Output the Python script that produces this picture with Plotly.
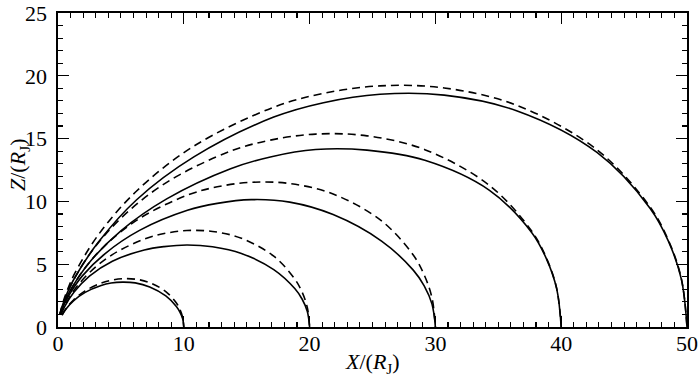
import plotly.graph_objects as go

# Dashed curves (dipole field lines)
dip10_x = [0.32, 0.64, 1.25, 2.16, 3.43, 4.22, 5.12, 6.14, 7.29, 8.57, 9.41, 9.70, 9.91, 10.0]
dip10_z = [0.95, 1.47, 2.17, 2.88, 3.50, 3.72, 3.84, 3.81, 3.53, 2.82, 1.91, 1.38, 0.77, 0.0]

dip20_x = [0.22, 0.31, 0.54, 1.28, 2.50, 4.32, 6.86, 8.44, 10.24, 12.28, 14.58, 17.15, 18.82, 19.41, 19.82, 20.0]
dip20_z = [0.97, 1.21, 1.72, 2.93, 4.33, 5.76, 7.00, 7.44, 7.68, 7.61, 7.06, 5.64, 3.82, 2.76, 1.54, 0.0]

dip30_x = [0.18, 0.47, 0.81, 1.92, 3.75, 6.48, 10.29, 12.66, 15.36, 18.42, 21.87, 25.72, 28.24, 29.11, 29.73, 30.0]
dip30_z = [0.98, 1.82, 2.58, 4.40, 6.50, 8.64, 10.50, 11.16, 11.52, 11.42, 10.59, 8.45, 5.73, 4.15, 2.31, 0.0]

dip40_x = [0.16, 0.32, 0.62, 1.08, 2.56, 5.00, 8.64, 13.72, 16.88, 20.48, 24.56, 29.16, 34.30, 37.65, 38.81, 39.64, 40.0]
dip40_z = [0.99, 1.57, 2.42, 3.44, 5.86, 8.66, 11.52, 14.00, 14.88, 15.36, 15.22, 14.12, 11.27, 7.64, 5.53, 3.08, 0.0]

dip50_x = [0.14, 0.40, 0.78, 1.35, 3.20, 6.25, 10.80, 17.15, 21.10, 25.60, 30.70, 36.45, 42.87, 47.06, 48.52, 49.55, 50.0]
dip50_z = [0.99, 1.96, 3.03, 4.30, 7.33, 10.83, 14.40, 17.50, 18.60, 19.20, 19.03, 17.66, 14.09, 9.56, 6.91, 3.85, 0.0]

# Solid curves (modified field lines)
sol10_x = [0.32, 0.64, 1.25, 2.16, 3.43, 4.22, 5.12, 6.14, 7.29, 8.57, 9.41, 9.70, 9.91, 10.0]
sol10_z = [0.95, 1.44, 2.10, 2.76, 3.31, 3.50, 3.57, 3.51, 3.19, 2.48, 1.64, 1.17, 0.65, 0.0]

sol20_x = [0.22, 0.31, 0.54, 1.28, 2.50, 4.32, 6.86, 8.44, 10.24, 12.28, 14.58, 17.15, 18.82, 19.41, 19.82, 20.0]
sol20_z = [0.97, 1.17, 1.65, 2.78, 4.05, 5.24, 6.13, 6.40, 6.53, 6.39, 5.86, 4.57, 3.06, 2.21, 1.23, 0.0]

sol30_x = [0.18, 0.47, 0.81, 1.92, 3.75, 6.48, 10.29, 12.66, 15.36, 18.42, 21.87, 25.72, 28.24, 29.11, 29.73, 30.0]
sol30_z = [0.98, 1.75, 2.43, 4.05, 5.85, 7.69, 9.29, 9.84, 10.14, 9.94, 8.95, 6.84, 4.53, 3.28, 1.82, 0.0]

sol40_x = [0.16, 0.32, 0.62, 1.08, 2.56, 5.00, 8.64, 13.72, 16.88, 20.48, 24.56, 29.16, 34.30, 37.65, 38.81, 39.64, 40.0]
sol40_z = [0.99, 1.49, 2.23, 3.10, 5.22, 7.66, 10.20, 12.60, 13.54, 14.13, 14.08, 13.27, 10.88, 7.53, 5.47, 3.05, 0.0]

sol50_x = [0.14, 0.40, 0.78, 1.35, 3.20, 6.25, 10.80, 17.15, 21.10, 25.60, 30.70, 36.45, 42.87, 47.06, 48.52, 49.55, 50.0]
sol50_z = [0.99, 1.86, 2.82, 3.96, 6.74, 10.13, 13.54, 16.71, 17.86, 18.53, 18.46, 17.22, 13.88, 9.46, 6.84, 3.81, 0.0]

x_ticks = [0, 10, 20, 30, 40, 50]
z_ticks = [0, 5, 10, 15, 20, 25]

dashed = [(dip10_x, dip10_z), (dip20_x, dip20_z), (dip30_x, dip30_z), (dip40_x, dip40_z), (dip50_x, dip50_z)]
solid = [(sol10_x, sol10_z), (sol20_x, sol20_z), (sol30_x, sol30_z), (sol40_x, sol40_z), (sol50_x, sol50_z)]

fig = go.Figure()
for xs, zs in solid:
    fig.add_trace(go.Scatter(x=xs, y=zs, mode="lines",
                             line=dict(color="black", width=1.6, shape="spline", smoothing=1.0),
                             showlegend=False, hoverinfo="skip"))
for xs, zs in dashed:
    fig.add_trace(go.Scatter(x=xs, y=zs, mode="lines",
                             line=dict(color="black", width=1.6, dash="8px,5px", shape="spline", smoothing=1.0),
                             showlegend=False, hoverinfo="skip"))

font_family = "Liberation Serif"
axis_common = dict(
    showline=True, linecolor="black", linewidth=1.6, mirror="ticks",
    ticks="inside", ticklen=11, tickwidth=1.3, tickcolor="black",
    showgrid=False, zeroline=False, automargin=False,
    tickfont=dict(family=font_family, size=22, color="black"),
    minor=dict(ticks="inside", ticklen=5, tickwidth=1.1, tickcolor="black", dtick=1, showgrid=False),
)

fig.update_layout(
    template="none",
    width=700, height=383,
    margin=dict(l=58, r=13, t=13, b=56, autoexpand=False),
    paper_bgcolor="white", plot_bgcolor="white",
    font=dict(family=font_family, size=22, color="black"),
    xaxis=dict(range=[0, 50], tickvals=x_ticks, ticktext=[str(v) for v in x_ticks],
               ticklabelstandoff=-4, **axis_common),
    yaxis=dict(range=[0, 25], tickvals=z_ticks, ticktext=[str(v) for v in z_ticks],
               ticklabelstandoff=5, **axis_common),
    annotations=[
        dict(text="<i>X</i>/(<i>R</i><sub>J</sub>)", xref="paper", yref="paper",
             x=0.5, y=0, xanchor="center", yanchor="middle", yshift=-36,
             showarrow=False, font=dict(family=font_family, size=22, color="black")),
        dict(text="<i>Z</i>/(<i>R</i><sub>J</sub>)", xref="paper", yref="paper",
             x=0, y=0.5, xanchor="center", yanchor="middle", xshift=-39, yshift=5,
             textangle=-90, showarrow=False,
             font=dict(family=font_family, size=22, color="black")),
    ],
)

fig.write_html(
    "out.html",
    config={"displayModeBar": False, "staticPlot": True},
    post_script="document.body.style.margin='0px';document.body.style.overflow='hidden';",
)
